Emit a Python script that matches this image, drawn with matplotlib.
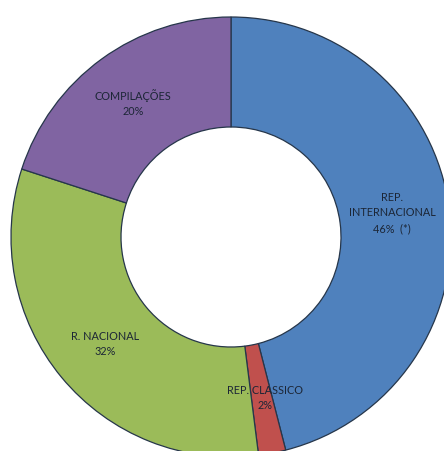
import matplotlib
matplotlib.use("Agg")
import matplotlib.pyplot as plt

# donut: share of catalogue by repertoire type
labels = ["REP.\nINTERNACIONAL", "REP. CLASSICO", "R. NACIONAL", "COMPILAÇÕES"]
values = [46, 2, 32, 20]
notes = ["  (*)", "", "", ""]
colors = ["#4F81BD", "#C0504D", "#9BBB59", "#8064A2"]

# label anchor points, in pixels from top-left
label_pos = [(392, 213), (265, 398), (105, 344), (133, 103)]

W, H = 444, 452
fig = plt.figure(figsize=(W / 100, H / 100), dpi=100)
ax = fig.add_axes([0, 0, 1, 1])

ax.pie(values, colors=colors, startangle=90, counterclock=False,
       center=(231, H - 238), radius=220, frame=True,
       wedgeprops=dict(width=110, edgecolor="#26364a", linewidth=0.9))
ax.set_xlim(0, W)
ax.set_ylim(0, H)
ax.set_aspect("equal")
ax.axis("off")

for lab, v, note, (x, y) in zip(labels, values, notes, label_pos):
    ax.text(x, H - y, f"{lab}\n{v}%{note}", ha="center", va="center",
            fontsize=7.8, family="Lato", color="#1c2636", linespacing=1.5)

fig.savefig("out.png", dpi=100)
